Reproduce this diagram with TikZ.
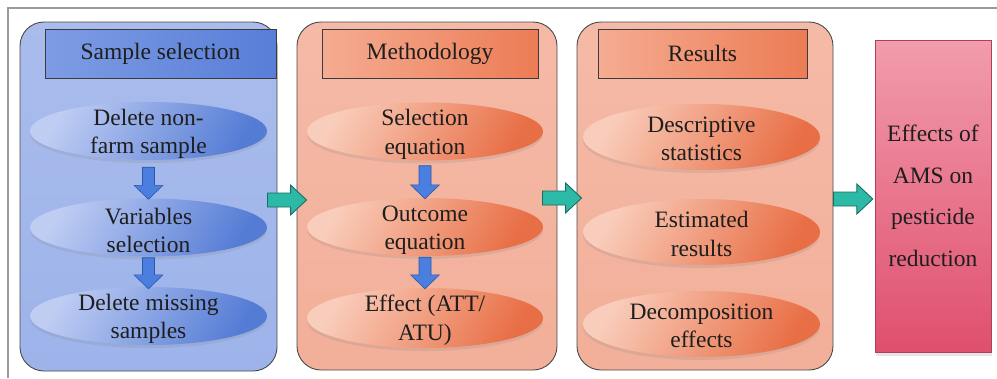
\documentclass[tikz,border=0pt]{standalone}
\usepackage{fontspec}
\setmainfont{Liberation Serif}
\newfontfamily\myserif{Liberation Serif}
\usetikzlibrary{calc,shadows,shapes.geometric}
\definecolor{txt}{HTML}{1E1E1E}
\definecolor{bluepanel}{HTML}{A9BCEC}
\definecolor{bluepanelB}{HTML}{9DB3EA}
\definecolor{bluehdrL}{HTML}{7E9CE4}
\definecolor{bluehdrR}{HTML}{587ED8}
\definecolor{blueellL}{HTML}{BFCDF3}
\definecolor{blueellR}{HTML}{557CD5}
\definecolor{orpanel}{HTML}{F5BAA7}
\definecolor{orpanelB}{HTML}{F2AF99}
\definecolor{orhdrL}{HTML}{F5AC92}
\definecolor{orhdrR}{HTML}{EC7C55}
\definecolor{orellL}{HTML}{F9CDBB}
\definecolor{orellR}{HTML}{E86E45}
\definecolor{pinkT}{HTML}{F29CAC}
\definecolor{pinkB}{HTML}{DF4F6E}
\definecolor{teal}{HTML}{2CBAA6}
\definecolor{tealD}{HTML}{1C6B61}
\definecolor{barrow}{HTML}{4A7FDF}
\definecolor{barrowD}{HTML}{2D57A8}
\definecolor{frame}{HTML}{9A9A9A}
\definecolor{edge}{HTML}{4A4A4A}
\tikzset{
  panel/.style={draw=edge, line width=0.9pt, rounded corners=24pt, inner sep=0pt},
  bluepan/.style={panel, top color=bluepanel, bottom color=bluepanelB},
  orpan/.style={panel, top color=orpanel, bottom color=orpanelB},
  hdr/.style={draw=edge!80!black, line width=0.9pt, inner sep=0pt, minimum height=49pt, text=txt, font=\myserif\fontsize{23.5}{27}\selectfont},
  bluehdr/.style={hdr, left color=bluehdrL, right color=bluehdrR},
  orhdr/.style={hdr, left color=orhdrL, right color=orhdrR},
  ell/.style={ellipse, inner sep=0pt, minimum width=237pt,
     drop shadow={opacity=0.18, shadow xshift=0pt, shadow yshift=-3pt}},
  blueell/.style={ell, top color=blueellL, bottom color=blueellR, shading angle=60},
  orell/.style={ell, top color=orellL, bottom color=orellR, shading angle=60},
  etext/.style={text=txt, align=center, font=\myserif\fontsize{23.5}{28.5}\selectfont, inner sep=0pt},
  pinkbox/.style={inner sep=0pt, top color=pinkT, bottom color=pinkB, draw=pinkB!80!black, line width=0.4pt,
     drop shadow={opacity=0.2, shadow xshift=1pt, shadow yshift=-4pt},
     text=txt, align=center, font=\myserif\fontsize{23.5}{41.5}\selectfont},
  vbarrowst/.style={fill=barrow, draw=barrowD, line width=0.6pt, line join=miter},
  hbarrowst/.style={fill=teal, draw=tealD, line width=0.9pt, line join=miter},
}
\newcommand{\myvarrow}[2]{%
  \draw[vbarrowst] ($(#1)+(-6,0)$) -- ($(#1)+(6,0)$) -- ($(#2)+(6,-14)$) -- ($(#2)+(14.5,-14)$)
    -- (#2) -- ($(#2)+(-14.5,-14)$) -- ($(#2)+(-6,-14)$) -- cycle;}
\newcommand{\myharrow}[2]{%
  \draw[hbarrowst] ($(#1)+(0,-7)$) -- ($(#2)+(-16,-7)$) -- ($(#2)+(-16,-15)$) -- (#2)
    -- ($(#2)+(-16,15)$) -- ($(#2)+(-16,7)$) -- ($(#1)+(0,7)$) -- cycle;}
\begin{document}
\begin{tikzpicture}[x=1pt,y=-1pt]
\useasboundingbox (0,0) rectangle (997,378);
\fill[white] (0,0) rectangle (997,378);
\draw[frame, line width=1.3pt] (8,378) -- (8,8) -- (997,8);

% panels
\node[bluepan, minimum width=257pt, minimum height=349pt] (p1) at (148.5,196.5) {};
\node[orpan, minimum width=260pt, minimum height=348pt] (p2) at (427,196) {};
\node[orpan, minimum width=256pt, minimum height=348pt] (p3) at (705,196) {};

% headers
\node[bluehdr, minimum width=231pt] (h1) at (160.5,53.5) {Sample selection};
\node[orhdr, minimum width=216pt] (h2) at (430,53.5) {Methodology};
\node[orhdr, minimum width=209pt] (h3) at (702.5,53.5) {Results};

% ellipses panel 1
\node[blueell, minimum height=58pt] (e11) at (148.5,131) {};
\node[etext] (t11) at ($(e11)+(0,3)$) {Delete non-\\farm sample};
\node[blueell, minimum height=58pt] (e12) at (148.5,227.5) {};
\node[etext] (t12) at ($(e12)+(0,3)$) {Variables\\selection};
\node[blueell, minimum height=58pt] (e13) at (148.5,316) {};
\node[etext] (t13) at ($(e13)+(0,3)$) {Delete missing\\samples};

% ellipses panel 2
\node[orell, minimum width=236pt, minimum height=58pt] (e21) at (425,131.5) {};
\node[etext] (t21) at ($(e21)+(0,3)$) {Selection\\equation};
\node[orell, minimum width=236pt, minimum height=58pt] (e22) at (425,227) {};
\node[etext] (t22) at ($(e22)+(0,3)$) {Outcome\\equation};
\node[orell, minimum width=236pt, minimum height=60pt] (e23) at (425,318) {};
\node[etext] (t23) at ($(e23)+(0,2)$) {Effect (ATT/\\ATU)};

% ellipses panel 3
\node[orell, minimum height=66pt] (e31) at (701.5,137) {};
\node[etext] (t31) at ($(e31)+(0,2)$) {Descriptive\\statistics};
\node[orell, minimum height=66pt] (e32) at (701.5,232) {};
\node[etext] (t32) at ($(e32)+(0,2)$) {Estimated\\results};
\node[orell, minimum height=66pt] (e33) at (701.5,324) {};
\node[etext] (t33) at ($(e33)+(0,2)$) {Decomposition\\effects};

% final box
\node[pinkbox, minimum width=116pt, minimum height=312pt] (pk) at (933,196) {Effects of\\AMS on\\pesticide\\reduction};

% vertical arrows
\coordinate (a11) at ($(e11.south)+(0,7)$);
\coordinate (a12) at ($(e12.north)+(0,1)$);
\myvarrow{a11}{a12}
\coordinate (a13) at ($(e12.south)+(0,1)$);
\coordinate (a14) at ($(e13.north)+(0,2)$);
\myvarrow{a13}{a14}
\coordinate (a21) at ($(e21.south)+(0,5)$);
\coordinate (a22) at ($(e22.north)+(0,1)$);
\myvarrow{a21}{a22}
\coordinate (a23) at ($(e22.south)+(0,1)$);
\coordinate (a24) at ($(e23.north)+(0,1)$);
\myvarrow{a23}{a24}

% horizontal arrows
\coordinate (g1s) at ($(p1.east)+(-10,3.5)$);
\coordinate (g1e) at ($(p2.west)+(10,4)$);
\myharrow{g1s}{g1e}
\coordinate (g2s) at ($(p2.east)+(-15,2)$);
\coordinate (g2e) at ($(p3.west)+(5,2)$);
\myharrow{g2s}{g2e}
\coordinate (g3s) at ($(p3.east)+(0,3)$);
\coordinate (g3e) at ($(pk.west)+(-2,3)$);
\myharrow{g3s}{g3e}
\end{tikzpicture}
\end{document}
